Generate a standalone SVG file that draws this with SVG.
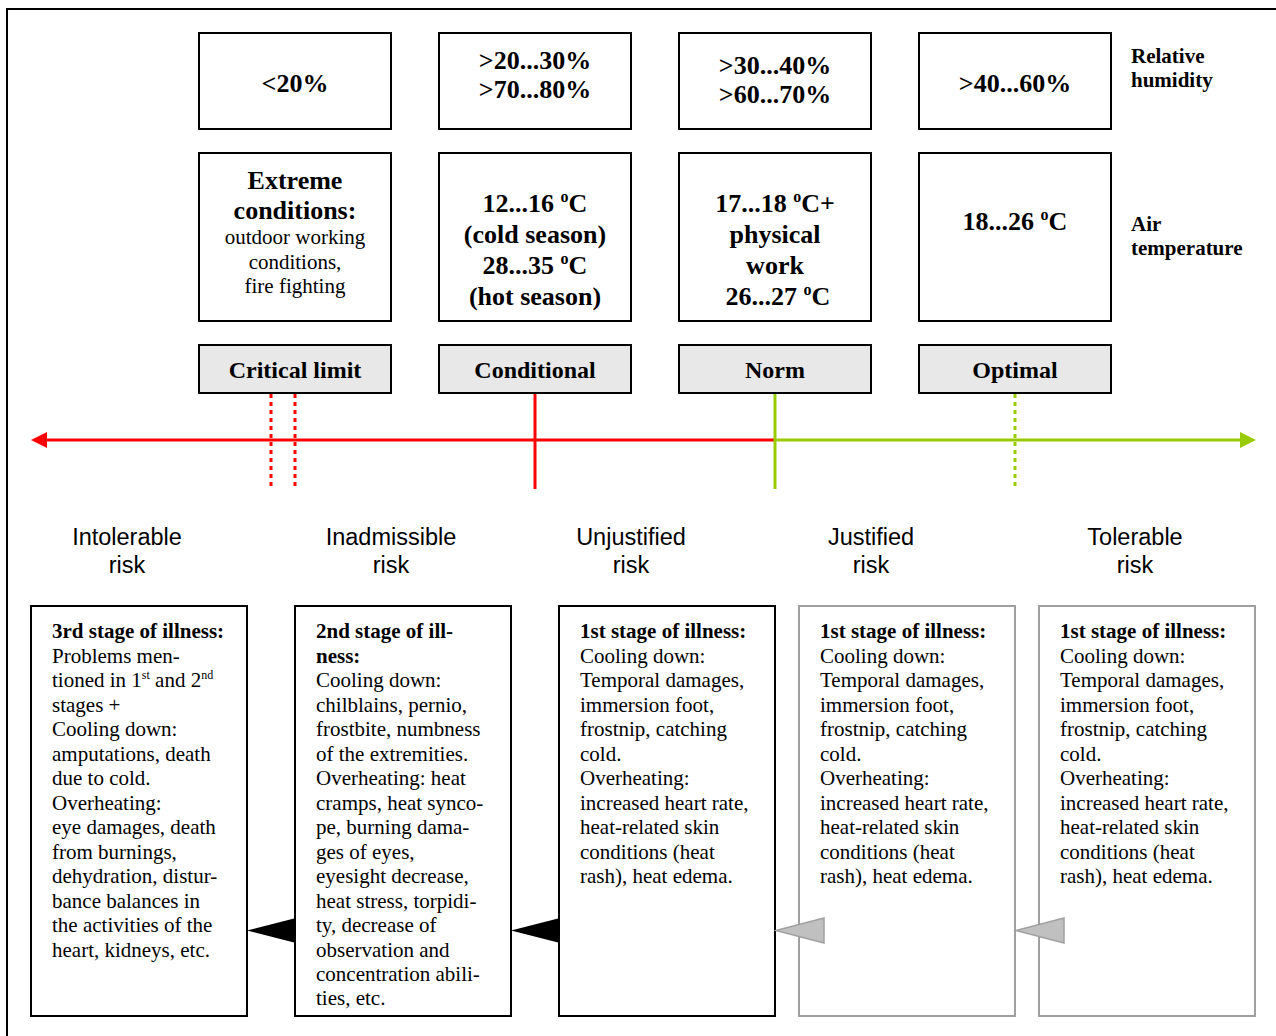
<svg xmlns="http://www.w3.org/2000/svg" width="1276" height="1036" viewBox="0 0 1276 1036">
<style>
.box{fill:#fff;stroke:#000;stroke-width:2}
.lbl{fill:#e8e8e8;stroke:#000;stroke-width:2}
.gbox{fill:#fff;stroke:#a0a0a0;stroke-width:2}
.tb{font-family:"Liberation Serif","Times New Roman",serif;font-weight:bold;font-size:26px;text-anchor:middle;fill:#000}
.tr{font-family:"Liberation Serif","Times New Roman",serif;font-size:21px;text-anchor:middle;fill:#000}
.lb{font-family:"Liberation Serif","Times New Roman",serif;font-weight:bold;font-size:24px;text-anchor:middle;fill:#000}
.side{font-family:"Liberation Serif","Times New Roman",serif;font-weight:bold;font-size:21px;fill:#000}
.risk{font-family:"Liberation Sans",Arial,sans-serif;font-size:23.5px;text-anchor:middle;fill:#000}
.body{font-family:"Liberation Serif","Times New Roman",serif;font-size:21px;fill:#000}
.body .h{font-weight:bold}
.red{stroke:#ff0000;stroke-width:3;fill:none}
.grn{stroke:#99cc00;stroke-width:3;fill:none}
.dot{stroke-dasharray:4 4}
.tri{fill:#000}
.gtri{fill:#c0c0c0;stroke:#a0a0a0;stroke-width:1.5}
</style>
<defs>
<marker id="ahR" markerWidth="16" markerHeight="16" refX="0" refY="8" orient="auto" markerUnits="userSpaceOnUse" viewBox="0 0 16 16">
<path d="M0,0 L16,8 L0,16 Z" fill="#ff0000"/>
</marker>
<marker id="ahG" markerWidth="16" markerHeight="16" refX="0" refY="8" orient="auto" markerUnits="userSpaceOnUse" viewBox="0 0 16 16">
<path d="M0,0 L16,8 L0,16 Z" fill="#99cc00"/>
</marker>
</defs>
<rect width="1276" height="1036" fill="#fff"/>
<path d="M7,1036 V9 H1276" fill="none" stroke="#000" stroke-width="2"/>

<g id="hum-1"><rect class="box" x="199" y="33" width="192" height="96"/><text class="tb" x="295" y="92">&lt;20%</text></g>
<g id="hum-2"><rect class="box" x="439" y="33" width="192" height="96"/><text class="tb" x="535" y="69">&gt;20...30%</text><text class="tb" x="535" y="98">&gt;70...80%</text></g>
<g id="hum-3"><rect class="box" x="679" y="33" width="192" height="96"/><text class="tb" x="775" y="74">&gt;30...40%</text><text class="tb" x="775" y="103">&gt;60...70%</text></g>
<g id="hum-4"><rect class="box" x="919" y="33" width="192" height="96"/><text class="tb" x="1015" y="92">&gt;40...60%</text></g>
<g id="hum-label"><text class="side" x="1131" y="63">Relative</text><text class="side" x="1131" y="87">humidity</text></g>

<g id="temp-1"><rect class="box" x="199" y="153" width="192" height="168"/>
<text class="tb" x="295" y="189">Extreme</text><text class="tb" x="295" y="219">conditions:</text>
<text class="tr" x="295" y="244">outdoor working</text><text class="tr" x="295" y="268.5">conditions,</text><text class="tr" x="295" y="293">fire fighting</text></g>
<g id="temp-2"><rect class="box" x="439" y="153" width="192" height="168"/>
<text class="tb" x="535" y="212">12...16 <tspan font-size="16" dy="-10">o</tspan><tspan dy="10">C</tspan></text>
<text class="tb" x="535" y="243">(cold season)</text>
<text class="tb" x="535" y="274">28...35 <tspan font-size="16" dy="-10">o</tspan><tspan dy="10">C</tspan></text>
<text class="tb" x="535" y="305">(hot season)</text></g>
<g id="temp-3"><rect class="box" x="679" y="153" width="192" height="168"/>
<text class="tb" x="775" y="212">17...18 <tspan font-size="16" dy="-10">o</tspan><tspan dy="10">C+</tspan></text>
<text class="tb" x="775" y="243">physical</text>
<text class="tb" x="775" y="274">work</text>
<text class="tb" x="778" y="305">26...27 <tspan font-size="16" dy="-10">o</tspan><tspan dy="10">C</tspan></text></g>
<g id="temp-4"><rect class="box" x="919" y="153" width="192" height="168"/>
<text class="tb" x="1015" y="230">18...26 <tspan font-size="16" dy="-10">o</tspan><tspan dy="10">C</tspan></text></g>
<g id="temp-label"><text class="side" x="1131" y="231">Air</text><text class="side" x="1131" y="255">temperature</text></g>

<g id="lbl-critical"><rect class="lbl" x="199" y="345" width="192" height="48"/><text class="lb" x="295" y="378">Critical limit</text></g>
<g id="lbl-conditional"><rect class="lbl" x="439" y="345" width="192" height="48"/><text class="lb" x="535" y="378">Conditional</text></g>
<g id="lbl-norm"><rect class="lbl" x="679" y="345" width="192" height="48"/><text class="lb" x="775" y="378">Norm</text></g>
<g id="lbl-optimal"><rect class="lbl" x="919" y="345" width="192" height="48"/><text class="lb" x="1015" y="378">Optimal</text></g>

<g id="risk-labels">
<text class="risk" x="127" y="545">Intolerable</text><text class="risk" x="127" y="573">risk</text>
<text class="risk" x="391" y="545">Inadmissible</text><text class="risk" x="391" y="573">risk</text>
<text class="risk" x="631" y="545">Unjustified</text><text class="risk" x="631" y="573">risk</text>
<text class="risk" x="871" y="545">Justified</text><text class="risk" x="871" y="573">risk</text>
<text class="risk" x="1135" y="545">Tolerable</text><text class="risk" x="1135" y="573">risk</text>
</g>

<g id="stage-3">
<rect class="box" x="31" y="606" width="216" height="410"/>
<text class="body">
<tspan class="h" x="52" y="638">3rd stage of illness:</tspan>
<tspan x="52" y="662.5">Problems men-</tspan>
<tspan x="52" y="687">tioned in 1<tspan font-size="12" dy="-8">st</tspan><tspan dy="8"> and 2</tspan><tspan font-size="12" dy="-8">nd</tspan></tspan>
<tspan x="52" y="711.5">stages +</tspan>
<tspan x="52" y="736">Cooling down:</tspan>
<tspan x="52" y="760.5">amputations, death</tspan>
<tspan x="52" y="785">due to cold.</tspan>
<tspan x="52" y="809.5">Overheating:</tspan>
<tspan x="52" y="834">eye damages, death</tspan>
<tspan x="52" y="858.5">from burnings,</tspan>
<tspan x="52" y="883">dehydration, distur-</tspan>
<tspan x="52" y="907.5">bance balances in</tspan>
<tspan x="52" y="932">the activities of the</tspan>
<tspan x="52" y="956.5">heart, kidneys, etc.</tspan>
</text>
</g>

<g id="stage-2">
<rect class="box" x="295" y="606" width="216" height="410"/>
<text class="body">
<tspan class="h" x="316" y="638">2nd stage of ill-</tspan>
<tspan class="h" x="316" y="662.5">ness:</tspan>
<tspan x="316" y="687">Cooling down:</tspan>
<tspan x="316" y="711.5">chilblains, pernio,</tspan>
<tspan x="316" y="736">frostbite, numbness</tspan>
<tspan x="316" y="760.5">of the extremities.</tspan>
<tspan x="316" y="785">Overheating: heat</tspan>
<tspan x="316" y="809.5">cramps, heat synco-</tspan>
<tspan x="316" y="834">pe, burning dama-</tspan>
<tspan x="316" y="858.5">ges of eyes,</tspan>
<tspan x="316" y="883">eyesight decrease,</tspan>
<tspan x="316" y="907.5">heat stress, torpidi-</tspan>
<tspan x="316" y="932">ty, decrease of</tspan>
<tspan x="316" y="956.5">observation and</tspan>
<tspan x="316" y="981">concentration abili-</tspan>
<tspan x="316" y="1005">ties, etc.</tspan>
</text>
</g>

<g id="stage-1-unjustified">
<rect class="box" x="559" y="606" width="216" height="410"/>
<text class="body">
<tspan class="h" x="580" y="638">1st stage of illness:</tspan>
<tspan x="580" y="662.5">Cooling down:</tspan>
<tspan x="580" y="687">Temporal damages,</tspan>
<tspan x="580" y="711.5">immersion foot,</tspan>
<tspan x="580" y="736">frostnip, catching</tspan>
<tspan x="580" y="760.5">cold.</tspan>
<tspan x="580" y="785">Overheating:</tspan>
<tspan x="580" y="809.5">increased heart rate,</tspan>
<tspan x="580" y="834">heat-related skin</tspan>
<tspan x="580" y="858.5">conditions (heat</tspan>
<tspan x="580" y="883">rash), heat edema.</tspan>
</text>
</g>

<g id="stage-1-justified">
<rect class="gbox" x="799" y="606" width="216" height="410"/>
<text class="body">
<tspan class="h" x="820" y="638">1st stage of illness:</tspan>
<tspan x="820" y="662.5">Cooling down:</tspan>
<tspan x="820" y="687">Temporal damages,</tspan>
<tspan x="820" y="711.5">immersion foot,</tspan>
<tspan x="820" y="736">frostnip, catching</tspan>
<tspan x="820" y="760.5">cold.</tspan>
<tspan x="820" y="785">Overheating:</tspan>
<tspan x="820" y="809.5">increased heart rate,</tspan>
<tspan x="820" y="834">heat-related skin</tspan>
<tspan x="820" y="858.5">conditions (heat</tspan>
<tspan x="820" y="883">rash), heat edema.</tspan>
</text>
</g>

<g id="stage-1-tolerable">
<rect class="gbox" x="1039" y="606" width="216" height="410"/>
<text class="body">
<tspan class="h" x="1060" y="638">1st stage of illness:</tspan>
<tspan x="1060" y="662.5">Cooling down:</tspan>
<tspan x="1060" y="687">Temporal damages,</tspan>
<tspan x="1060" y="711.5">immersion foot,</tspan>
<tspan x="1060" y="736">frostnip, catching</tspan>
<tspan x="1060" y="760.5">cold.</tspan>
<tspan x="1060" y="785">Overheating:</tspan>
<tspan x="1060" y="809.5">increased heart rate,</tspan>
<tspan x="1060" y="834">heat-related skin</tspan>
<tspan x="1060" y="858.5">conditions (heat</tspan>
<tspan x="1060" y="883">rash), heat edema.</tspan>
</text>
</g>

<g id="connectors">
<line class="red" x1="775" y1="440" x2="47" y2="440" stroke-width="4" marker-end="url(#ahR)"/>
<line class="grn" x1="775" y1="440" x2="1240" y2="440" stroke-width="4" marker-end="url(#ahG)"/>
<line class="red dot" x1="271" y1="394" x2="271" y2="489"/>
<line class="red dot" x1="295" y1="394" x2="295" y2="489"/>
<line class="red" x1="535" y1="394" x2="535" y2="489"/>
<line class="grn" x1="775" y1="394" x2="775" y2="489"/>
<line class="grn dot" x1="1015" y1="394" x2="1015" y2="489"/>
<path class="tri" d="M247,930.5 L296,918 L296,943 Z"/>
<path class="tri" d="M511,930.5 L560,918 L560,943 Z"/>
<path class="gtri" d="M776,930.5 L824,918 L824,943 Z"/>
<path class="gtri" d="M1016,930.5 L1064,918 L1064,943 Z"/>
</g>
</svg>
